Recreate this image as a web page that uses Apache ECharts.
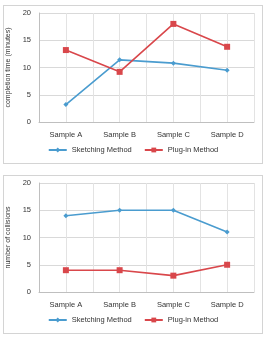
<!DOCTYPE html>
<html>
<head>
<meta charset="utf-8">
<script src="https://cdn.jsdelivr.net/npm/echarts@6/dist/echarts.min.js"></script>
<style>
  body { margin: 0; background: #fff; }
  .box { position: absolute; left: 3px; width: 258px; height: 157px; border: 1px solid #d4d4d4; }
</style>
</head>
<body>
<div id="c1" class="box" style="top:5px"></div>
<div id="c2" class="box" style="top:175px"></div>
<script>
// categories and values
var samples = ['Sample A', 'Sample B', 'Sample C', 'Sample D'];
var legendNames = ['Sketching Method', 'Plug-in Method'];
var timeSketch = [3.2, 11.4, 10.8, 9.5];
var timePlugin = [13.2, 9.2, 18.0, 13.8];
var collSketch = [14, 15, 15, 11];
var collPlugin = [4, 4, 3, 5];
var gridCols = ['', '', '', '', '', '', '', ''];

var FONT = '"Liberation Sans Narrow", "Liberation Sans", sans-serif';
var BLUE = '#4a9ccf';
var RED = '#d9474b';

function makeOption(yName, a, b) {
  return {
    animation: false,
    textStyle: { fontFamily: FONT },
    legend: {
      bottom: 4,
      left: 'center',
      itemWidth: 18,
      itemHeight: 6,
      itemGap: 12,
      textStyle: { fontSize: 7.5, color: '#333', fontFamily: FONT },
      data: legendNames
    },
    grid: { left: 35, right: 8, top: 7, bottom: 41, outerBoundsMode: 'none', containLabel: false },
    xAxis: [{
      type: 'category',
      data: samples,
      boundaryGap: true,
      axisLine: { lineStyle: { color: '#bfbfbf' } },
      axisTick: { show: false },
      splitLine: { show: false },
      axisLabel: { fontSize: 7.5, color: '#333', margin: 9, fontFamily: FONT }
    }, {
      type: 'category',
      data: gridCols,
      boundaryGap: true,
      show: true,
      position: 'bottom',
      axisLine: { show: false },
      axisTick: { show: false },
      axisLabel: { show: false },
      splitLine: { show: true, interval: 0, lineStyle: { color: '#e3e3e3', width: 1 } }
    }],
    yAxis: {
      type: 'value',
      min: 0, max: 20, interval: 5,
      name: yName,
      nameLocation: 'middle',
      nameRotate: 90,
      nameGap: 21,
      nameTextStyle: { fontSize: 7, color: '#333', fontFamily: FONT },
      axisLine: { show: true, lineStyle: { color: '#bfbfbf' } },
      axisTick: { show: false },
      axisLabel: { fontSize: 7.5, color: '#333', margin: 8, fontFamily: FONT },
      splitLine: { lineStyle: { color: '#d9d9d9' } }
    },
    series: [{
      name: legendNames[0],
      type: 'line',
      data: a,
      symbol: 'diamond',
      symbolSize: 5,
      itemStyle: { color: BLUE },
      lineStyle: { width: 1.6, color: BLUE }
    }, {
      name: legendNames[1],
      type: 'line',
      data: b,
      symbol: 'rect',
      symbolSize: 6,
      itemStyle: { color: RED },
      lineStyle: { width: 1.6, color: RED }
    }]
  };
}

var chart1 = echarts.init(document.getElementById('c1'));
chart1.setOption(makeOption('completion time (minutes)', timeSketch, timePlugin));
var chart2 = echarts.init(document.getElementById('c2'));
chart2.setOption(makeOption('number of collisions', collSketch, collPlugin));
</script>
</body>
</html>
